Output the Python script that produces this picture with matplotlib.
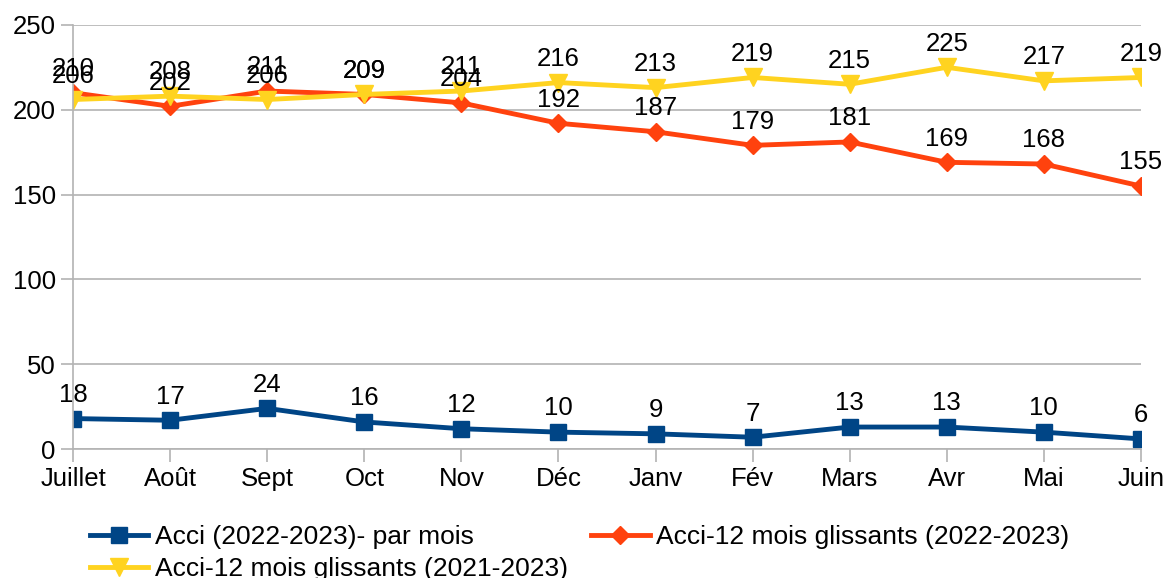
import matplotlib.pyplot as plt
import matplotlib

matplotlib.rcParams['font.family'] = ['Liberation Sans', 'DejaVu Sans']

# données
mois = ['Juillet', 'Août', 'Sept', 'Oct', 'Nov', 'Déc', 'Janv', 'Fév', 'Mars', 'Avr', 'Mai', 'Juin']
acci_mois = [18, 17, 24, 16, 12, 10, 9, 7, 13, 13, 10, 6]
glissants_2022 = [210, 202, 211, 209, 204, 192, 187, 179, 181, 169, 168, 155]
glissants_2021 = [206, 208, 206, 209, 211, 216, 213, 219, 215, 225, 217, 219]

fig = plt.figure(figsize=(11.69, 5.78), dpi=100)
ax = fig.add_axes([0.0625, 0.223, 0.9135, 0.734])

x = list(range(len(mois)))
series = [
    (acci_mois, 'Acci (2022-2023)- par mois', '#004586', 's', 12),
    (glissants_2022, 'Acci-12 mois glissants (2022-2023)', '#ff420e', 'D', 9),
    (glissants_2021, 'Acci-12 mois glissants (2021-2023)', '#ffd320', 'v', 13),
]
lines = []
for vals, lab, col, mk, ms in series:
    ln, = ax.plot(x, vals, color=col, marker=mk, markersize=ms, linewidth=3.5, label=lab)
    lines.append(ln)
    for xi, v in zip(x, vals):
        ax.annotate(str(v), (xi, v), xytext=(0, 12), textcoords='offset points',
                    ha='center', va='baseline', fontsize=18.5, color='black')

ax.set_xlim(0, 11)
ax.set_ylim(0, 250)
ax.set_yticks(range(0, 251, 50))
ax.set_xticks(x)
ax.set_xticklabels(mois)
ax.tick_params(labelsize=18.5, length=9, color='#b3b3b3', width=1.2)
ax.tick_params(axis='x', pad=4)
ax.grid(axis='y', color='#b3b3b3', linewidth=1.2)
ax.set_axisbelow(True)
for s in ['top', 'right']:
    ax.spines[s].set_visible(False)
for s in ['left', 'bottom']:
    ax.spines[s].set_color('#b3b3b3')
    ax.spines[s].set_linewidth(1.2)

# légende : ordre pour un remplissage ligne par ligne
fig.legend([lines[0], lines[2], lines[1]], [lines[0].get_label(), lines[2].get_label(), lines[1].get_label()],
           ncol=2, loc='upper left', bbox_to_anchor=(0.068, 0.11), frameon=False,
           fontsize=19, handlelength=2.2, handletextpad=0.25, columnspacing=0.9,
           labelspacing=0.3, borderaxespad=0)

fig.savefig('out.png', dpi=100)
